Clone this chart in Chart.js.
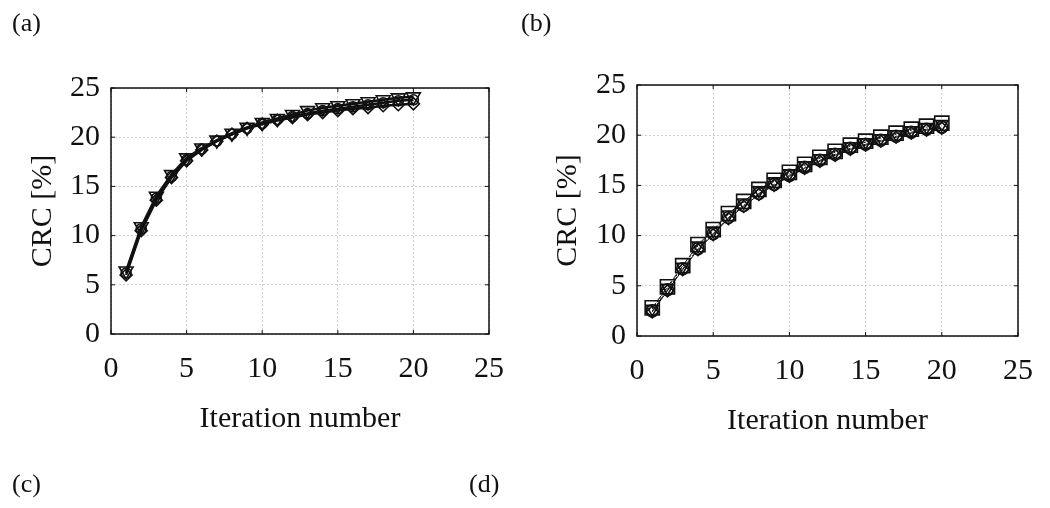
<!DOCTYPE html>
<html>
<head>
<meta charset="utf-8">
<script src="https://cdn.jsdelivr.net/npm/chart.js@4"></script>
<style>
  body { margin: 0; background: #fff; }
  #wrap { position: relative; width: 1050px; height: 508px; overflow: hidden; }
  canvas { position: absolute; top: 0; }
  .lbl { position: absolute; font-family: "Liberation Serif", serif; font-size: 26px; line-height: 26px; color: #111; }
</style>
</head>
<body>
<div id="wrap">
  <canvas id="chartA" width="525" height="508" style="left:0"></canvas>
  <canvas id="chartB" width="525" height="508" style="left:525px"></canvas>
  <div class="lbl" style="left:12px; top:10px">(a)</div>
  <div class="lbl" style="left:521px; top:10px">(b)</div>
  <div class="lbl" style="left:12px; top:471px">(c)</div>
  <div class="lbl" style="left:469px; top:471px">(d)</div>
</div>
<script>
// iteration numbers
const iterations = [1, 2, 3, 4, 5, 6, 7, 8, 9, 10, 11, 12, 13, 14, 15, 16, 17, 18, 19, 20];
const axisTicks = [0, 5, 10, 15, 20, 25];

// panel (a) curves
const crcA1 = [6.4, 10.9, 14.0, 16.2, 17.9, 18.9, 19.7, 20.4, 21.0, 21.5, 21.9, 22.3, 22.7, 23.0, 23.2, 23.4, 23.6, 23.8, 24.0, 24.1];
const crcA2 = [6.2, 10.7, 13.8, 16.0, 17.7, 18.8, 19.6, 20.3, 20.9, 21.4, 21.8, 22.1, 22.4, 22.7, 22.9, 23.1, 23.3, 23.5, 23.7, 23.8];
const crcA3 = [6.0, 10.5, 13.6, 15.9, 17.6, 18.7, 19.6, 20.3, 20.9, 21.3, 21.7, 22.0, 22.3, 22.5, 22.7, 22.9, 23.0, 23.2, 23.3, 23.4];

// panel (b) curves
const crcB1 = [2.8, 4.9, 7.0, 9.1, 10.6, 12.2, 13.4, 14.6, 15.5, 16.3, 17.1, 17.8, 18.4, 19.0, 19.4, 19.8, 20.2, 20.6, 20.9, 21.2];
const crcB2 = [2.7, 4.8, 6.9, 9.0, 10.5, 12.1, 13.3, 14.5, 15.4, 16.2, 17.0, 17.7, 18.3, 18.9, 19.3, 19.7, 20.1, 20.5, 20.8, 21.1];
const crcB3 = [2.5, 4.6, 6.7, 8.7, 10.2, 11.8, 13.0, 14.2, 15.1, 16.0, 16.8, 17.5, 18.1, 18.7, 19.1, 19.5, 19.9, 20.3, 20.6, 20.8];
const crcB4 = [2.4, 4.5, 6.6, 8.6, 10.1, 11.7, 12.9, 14.1, 15.0, 15.9, 16.7, 17.4, 18.0, 18.6, 19.0, 19.4, 19.8, 20.2, 20.5, 20.7];

const serif = "'Liberation Serif', 'Times New Roman', serif";

// MATLAB style box with inward ticks
const boxPlugin = {
  id: 'box',
  afterDraw(chart) {
    const { ctx, chartArea: a, scales } = chart;
    ctx.save();
    ctx.strokeStyle = '#111';
    ctx.lineWidth = 1.5;
    ctx.strokeRect(a.left, a.top, a.right - a.left, a.bottom - a.top);
    ctx.lineWidth = 1;
    ctx.beginPath();
    scales.x.ticks.forEach(t => {
      const px = scales.x.getPixelForValue(t.value);
      ctx.moveTo(px, a.bottom); ctx.lineTo(px, a.bottom - 4);
      ctx.moveTo(px, a.top); ctx.lineTo(px, a.top + 4);
    });
    scales.y.ticks.forEach(t => {
      const py = scales.y.getPixelForValue(t.value);
      ctx.moveTo(a.left, py); ctx.lineTo(a.left + 4, py);
      ctx.moveTo(a.right, py); ctx.lineTo(a.right - 4, py);
    });
    ctx.stroke();
    ctx.restore();
  }
};

function toPoints(ys) {
  return iterations.map((x, i) => ({ x: x, y: ys[i] }));
}

function series(ys, style, rot, radius, lineWidth, dash) {
  return {
    data: toPoints(ys),
    borderColor: '#111',
    borderWidth: lineWidth,
    borderDash: dash,
    pointStyle: style,
    rotation: rot,
    pointRadius: radius,
    pointBorderWidth: 1.6,
    pointBorderColor: '#111',
    pointBackgroundColor: 'rgba(0,0,0,0)',
    fill: false,
    tension: 0
  };
}

function makeOptions(yWidth, pad) {
  return {
    responsive: false,
    animation: false,
    layout: { padding: pad },
    plugins: { legend: { display: false }, tooltip: { enabled: false } },
    scales: {
      x: {
        type: 'linear', min: 0, max: 25,
        afterBuildTicks: s => { s.ticks = axisTicks.map(v => ({ value: v })); },
        afterFit: s => { s.height = 103; },
        grid: { color: '#cfcfcf', drawTicks: false, lineWidth: 1 },
        border: { display: false, dash: [2, 2] },
        ticks: { color: '#111', padding: 17, font: { family: serif, size: 30 } },
        title: { display: true, text: 'Iteration number', color: '#111', padding: 0, font: { family: serif, size: 30 } }
      },
      y: {
        type: 'linear', min: 0, max: 25,
        afterBuildTicks: s => { s.ticks = axisTicks.map(v => ({ value: v })); },
        afterFit: s => { s.width = yWidth; },
        grid: { color: '#cfcfcf', drawTicks: false, lineWidth: 1 },
        border: { display: false, dash: [2, 2] },
        ticks: { color: '#111', padding: 11, font: { family: serif, size: 30 } },
        title: { display: true, text: 'CRC [%]', color: '#111', padding: { top: 25, bottom: 0 }, font: { family: serif, size: 30 } }
      }
    }
  };
}

const chartA = new Chart(document.getElementById('chartA'), {
  type: 'line',
  data: {
    datasets: [
      series(crcA1, 'triangle', 180, 8, 2.5, []),
      series(crcA2, 'circle', 0, 5, 2.5, []),
      series(crcA3, 'rectRot', 0, 6, 2.5, [])
    ]
  },
  options: makeOptions(111, { left: 0, top: 88, right: 36, bottom: 71 }),
  plugins: [boxPlugin]
});

const chartB = new Chart(document.getElementById('chartB'), {
  type: 'line',
  data: {
    datasets: [
      series(crcB1, 'rect', 0, 10, 1, [6, 3]),
      series(crcB2, 'triangle', 180, 7, 1, [2, 2]),
      series(crcB3, 'circle', 0, 6, 1, [6, 2, 2, 2]),
      series(crcB4, 'rectRot', 0, 6, 1, [])
    ]
  },
  options: makeOptions(112, { left: 0, top: 85, right: 27, bottom: 69 }),
  plugins: [boxPlugin]
});
</script>
</body>
</html>
